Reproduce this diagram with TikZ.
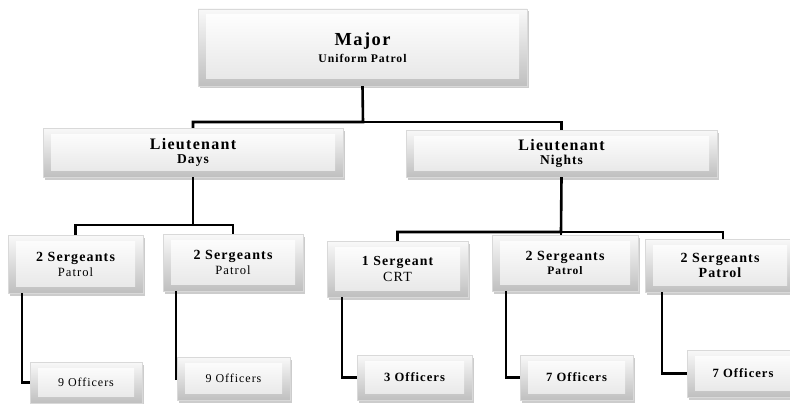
\documentclass[tikz,border=0pt]{standalone}
\usepackage{fontspec}
\setmainfont[LetterSpace=8]{Liberation Serif}
\usetikzlibrary{shadows}
\tikzset{
  box/.style={rectangle, inner sep=0pt, align=center, draw=gray!30, line width=0.4pt,
    top color=gray!5, bottom color=gray!50,
    drop shadow={shadow xshift=1.5pt, shadow yshift=-2.5pt, opacity=0.4, fill=gray},
    path picture={\shade[top color=white, bottom color=gray!20]
      ([xshift=8pt,yshift=7pt]path picture bounding box.south west) rectangle
      ([xshift=-8pt,yshift=-6pt]path picture bounding box.north east);}},
  link/.style={line width=2.6pt, black},
}
\newcommand{\fs}[1]{\fontsize{#1}{#1}\selectfont}
\begin{document}
\begin{tikzpicture}[x=1pt,y=-1pt]
\useasboundingbox (0,0) rectangle (790,404);
\clip (0,0) rectangle (790,404);
\fill[white] (0,0) rectangle (790,404);
% boxes
\node[box, minimum width=329pt, minimum height=77pt] (major) at (362.5,47.5)
  {{\fs{18.4}\bfseries Major}\\[4pt]{\fs{11.7}\bfseries Uniform Patrol}};
\node[box, minimum width=300pt, minimum height=49pt] (ltd) at (193,152.5)
  {{\fs{16}\bfseries Lieutenant}\\[1.5pt]{\fs{13.5}\bfseries Days}};
\node[box, minimum width=311pt, minimum height=47pt] (ltn) at (561.5,153.5)
  {{\fs{16}\bfseries Lieutenant}\\[1.5pt]{\fs{13.5}\bfseries Nights}};
\node[box, minimum width=135pt, minimum height=58pt] (s1) at (75.5,264)
  {{\fs{14}\bfseries 2 Sergeants}\\[3pt]{\fs{12.6}Patrol}};
\node[box, minimum width=140pt, minimum height=57pt] (s2) at (233,262.5)
  {{\fs{14}\bfseries 2 Sergeants}\\[3pt]{\fs{12.6}Patrol}};
\node[box, minimum width=141pt, minimum height=56pt] (s3) at (397.5,269)
  {{\fs{13.8}\bfseries 1 Sergeant}\\[3pt]{\fs{14}CRT}};
\node[box, minimum width=146pt, minimum height=56pt] (s4) at (565,263)
  {{\fs{14}\bfseries 2 Sergeants}\\[2pt]{\fs{11.5}\bfseries Patrol}};
\node[box, minimum width=150pt, minimum height=53pt] (s5) at (720,265.5)
  {{\fs{14}\bfseries 2 Sergeants}\\[2pt]{\fs{14}\bfseries Patrol}};
\node[box, minimum width=112pt, minimum height=41pt] (o1) at (86,382.5)
  {\fs{12}9 Officers};
\node[box, minimum width=113pt, minimum height=43pt] (o2) at (233.5,378.5)
  {\fs{12}9 Officers};
\node[box, minimum width=115pt, minimum height=45pt] (o3) at (414.5,377.5)
  {\fs{12.6}\bfseries 3 Officers};
\node[box, minimum width=113pt, minimum height=45pt] (o4) at (576.5,377.5)
  {\fs{12.6}\bfseries 7 Officers};
\node[box, minimum width=112pt, minimum height=47pt] (o5) at (743,373.5)
  {\fs{12.6}\bfseries 7 Officers};
% junctions
\coordinate (j1) at (363,122);
\coordinate (j2) at (193,225);
\coordinate (j3) at (561,232);
% connectors
\draw[link] (major.south) -- (j1) -| (ltd.north);
\draw[link] (j1) -| (ltn.north);
\draw[link] (ltd.south) -- (j2) -| (s1.north);
\draw[link] (j2) -| (s2.north);
\draw[link] (ltn.south) -- (j3) -| (s3.north);
\draw[link] (j3) -| ([xshift=3pt]s5.north);
\draw[link] (j3) -- (s4.north -| j3);
\draw[link] ([xshift=14pt]s1.south west) |- (o1.west);
\draw[link] ([xshift=13pt]s2.south west) |- (o2.west);
\draw[link] ([xshift=15pt]s3.south west) |- (o3.west);
\draw[link] ([xshift=14pt]s4.south west) |- (o4.west);
\draw[link] ([xshift=17pt]s5.south west) |- (o5.west);
\end{tikzpicture}
\end{document}
